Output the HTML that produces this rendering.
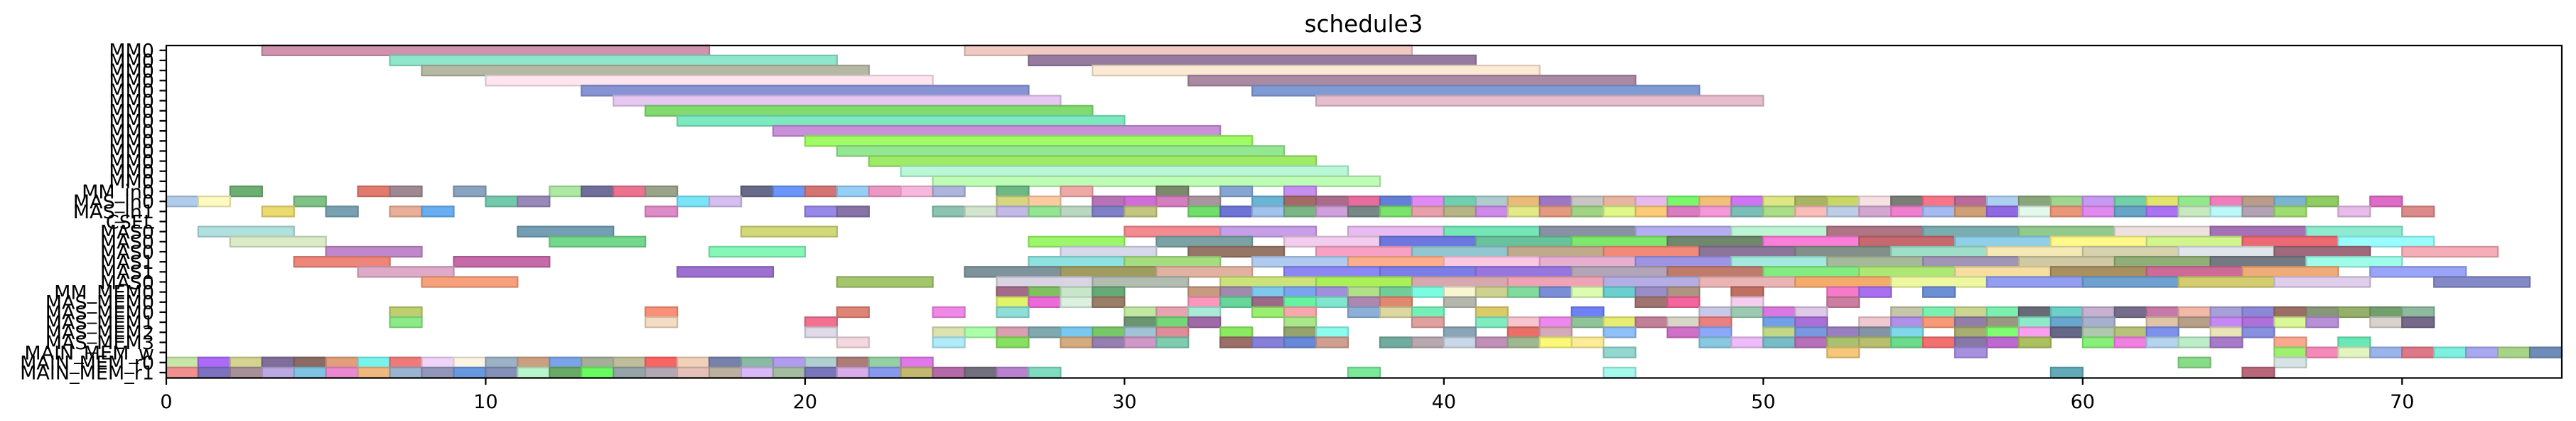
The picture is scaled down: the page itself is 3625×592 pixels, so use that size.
<!DOCTYPE html>
<html>
<head>
<meta charset="utf-8">
<style>
  html,body{margin:0;padding:0;background:#fff;}
  svg{display:block;}
  text{font-family:"DejaVu Sans","Liberation Sans",sans-serif;fill:#000;}
</style>
</head>
<body>
<svg id="chart" width="3625" height="592" viewBox="0 0 3625 592" xmlns="http://www.w3.org/2000/svg">
  <rect x="0" y="0" width="3625" height="592" fill="#fff"/>
  <text x="1919" y="45" font-size="32.6" text-anchor="middle">schedule3</text>
  <g id="bars"></g>
  <g id="yaxis"></g>
  <g id="xaxis"></g>
  <rect x="234" y="64" width="3371" height="467.5" fill="none" stroke="#000" stroke-width="2.2"/>
</svg>
<script>
const rowLabels = ["MM0","MM0","MM0","MM0","MM0","MM0","MM0","MM0","MM0","MM0","MM0","MM0","MM0","MM0",
  "MM_in0","MAS_in0","MAS_in1","CSEL","MAS0","MAS0","MAS0","MAS1","MAS1","MAS0","MM_MEM0",
  "MAS_MEM0","MAS_MEM0","MAS_MEM1","MAS_MEM2","MAS_MEM3","MAIN_MEM_w","MAIN_MEM_r0","MAIN_MEM_r1"];
const xTicks = [0,10,20,30,40,50,60,70];
const xMin = 0, xMax = 75;
const rowDur = [14,14,14,14,14,14,14,14,14,14,14,14,14,14,1,1,1,1,3,3,3,3,3,3,1,1,1,1,1,1,1,1,1];
const rowStarts = [
 [3,25],[7,27],[8,29],[10,32],[13,34],[14,36],[15],[16],[19],[20],[21],[22],[23],[24],
 [2,6,7,9,12,13,14,15,18,19,20,21,22,23,24,26,28,31,33,35],
 [0,1,4,10,11,16,17,26,27,29,30,31,32,34,35,36,37,38,39,40,41,42,43,44,45,46,47,48,49,50,51,52,53,54,55,56,57,58,59,60,61,62,63,64,65,66,67,69],
 [3,5,7,8,15,20,21,24,25,26,27,28,29,30,32,33,34,35,36,37,38,39,40,41,42,43,44,45,46,47,48,49,50,51,52,53,54,55,56,57,58,59,60,61,62,63,64,65,66,68,70],
 [],
 [1,11,18,30,33,37,40,43,46,49,52,55,58,61,64,67],
 [2,12,27,31,35,38,41,44,47,50,53,56,59,62,65,68],
 [5,17,28,32,36,39,42,45,48,51,54,57,60,63,66,70],
 [4,9,27,30,34,37,40,43,46,49,52,55,58,61,64,67],
 [6,16,25,28,31,35,38,41,44,47,50,53,56,59,62,65,69],
 [8,21,26,29,33,36,39,42,45,48,51,54,57,60,63,66,71],
 [26,27,28,29,32,33,34,35,36,37,38,39,40,41,42,43,44,45,46,47,49,52,53,55],
 [26,27,28,29,32,33,34,35,36,37,38,40,46,47,49,52],
 [7,15,21,24,26,30,31,32,34,35,37,38,39,41,44,48,49,50,51,54,55,56,57,58,59,60,61,62,63,64,65,66,67,68,69,70],
 [7,15,20,30,31,32,35,39,41,42,43,44,45,46,47,48,50,51,53,54,55,56,57,58,59,60,62,63,64,65,66,67,69,70],
 [20,24,25,26,27,28,29,30,31,33,35,36,40,42,43,45,47,48,50,51,52,53,54,56,57,58,59,60,61,62,64,65],
 [21,24,26,28,29,30,31,33,34,35,36,38,39,40,41,42,43,44,48,49,50,51,52,53,54,55,56,57,58,60,61,62,63,64,66,68],
 [45,52,56,66,67,68,69,70,71,72,73,74],
 [0,1,2,3,4,5,6,7,8,9,10,11,12,13,14,15,16,17,18,19,20,21,22,23,63,66],
 [0,1,2,3,4,5,6,7,8,9,10,11,12,13,14,15,16,17,18,19,20,21,22,23,24,25,26,27,37,45,59,65]
];
const rowColors = [
 ["#d093ad","#efc9c2"],["#8ee6cb","#967aa0"],["#b5b9a4","#fdead5"],["#ffe5f0","#aa89a3"],["#8793d5","#809bd4"],["#e6c8f3","#e5bdcd"],
 ["#82db70"],["#7de9c0"],["#c890d8"],["#9ffd63"],["#95e893"],["#9eeb68"],["#b9f8d6"],["#bdfdb5"],
 ["#6caf72","#e27a6e","#a08893","#88a4bf","#ade9a3","#6f6f9a","#ec728f","#99a48a","#676a88","#6a95fb","#d47573","#95cff6","#ec98c4","#f8b7dc","#aeb5dc","#6cb985","#eea8a6","#7b8a6b","#86a6d2","#c68ef0"],
 ["#b1cbea","#fffabf","#7ec285","#73c9ac","#9789b8","#7ae5f8","#d4bff0","#d6d680","#fecba0","#b872b8","#d06bd8","#d47ec0","#aa959f","#6ab4d4","#a56a67","#aa6c8a","#e86c9e","#667fd6","#e08af8","#71cfb1","#acccd0","#e9bb79","#9e76c6","#c9c5c6","#e8b6a0","#e8b9ed","#79f86c","#f2bf78","#cf74f2","#dee784","#a8b462","#cad666","#f6e2e2","#7a7e76","#f87488","#b86a98","#abd0f0","#8aa67a","#9ed58f","#c59af0","#72cfa8","#e3e56a","#92e88b","#f07ebb","#b99d8a","#7bb3d1","#8fcc63","#de6cc6"],
 ["#ecdc70","#78a2b2","#eaaf98","#68aef2","#de8cc8","#9789ea","#8773a8","#8cc4b1","#d3e4cf","#c2b9e6","#93e493","#bad7c0","#8080c8","#c2c680","#6ee06a","#6e73d6","#a0c2ec","#7bb786","#cfa0dc","#778887","#7ae36c","#e6a0aa","#b7b585","#ce8ae8","#e2ea88","#e39a80","#a0d484","#e0f888","#fbcb78","#d97cc0","#f499d8","#7bbfb8","#abdc88","#f9bcb8","#bccde6","#d2a8d2","#f07fd0","#a4baf0","#cf9f78","#9168e4","#e3f9ec","#ea9679","#e08af0","#68a4c8","#ab73f3","#c8e8c0","#baf8fa","#b4a3b4","#a0dd70","#e8bce8","#dd8a8a"],
 [],
 ["#b1e1df","#749eb4","#d2d978","#f58a90","#c79ee8","#e8bcf0","#74e6b8","#8a91a4","#b5aef0","#bdf5d4","#ae7585","#7aadb0","#92c98c","#ede2e0","#a672b6","#8decd0"],
 ["#dbebc8","#74d98c","#9cf76a","#7ba2a4","#f3cdee","#6c78e0","#68c29c","#7de86b","#6f876b","#fb7ed8","#c6686e","#90cfe8","#fff98a","#d2f58e","#ee6a72","#99fdfd"],
 ["#c088ca","#85f8b8","#d5d9ea","#957667","#f7a2c4","#92c7d2","#c1a98b","#f18a78","#8b7598","#838f89","#9fdfc9","#f5eab6","#d6d2ae","#dfe5ea","#9e6a7c","#f5adb8"],
 ["#ee857a","#c66aa8","#8ee2e0","#a5dd80","#b1caf0","#fdae8c","#fac8e0","#e8b0d0","#9f94e3","#a3e9de","#a7b99b","#a195b5","#cfcaa3","#8fae78","#757a82","#9efce8"],
 ["#dfa9c8","#9b70d0","#7e939b","#a09c60","#e2b2a0","#8b87f4","#7d7de8","#9876e0","#b2a5b8","#bf7c6c","#83ec80","#ade874","#f6dea0","#a89060","#cd6b96","#f0ac78","#9aa4f8"],
 ["#f6a07c","#a2c66c","#d8d4e4","#b2bcb0","#cce27a","#aaf058","#d8a8b0","#eea4b4","#b4aee4","#ebb4b4","#f3ac6c","#edf8a0","#929ef0","#6ea0d0","#d4cd70","#dfcdec","#8489c8"],
 ["#a46a8a","#80c060","#c8e6c8","#66aa78","#c89a80","#a08aae","#7ec8ee","#7aa4f0","#a090dc","#b2e08a","#72cc98","#7afce0","#f8f6d0","#cdd290","#80dc9c","#7a8ed8","#dcfcb0","#6acfcf","#9b8ec8","#b09482","#c07060","#f57ac8","#a870ee","#6c90d6"],
 ["#e0f468","#ec6ad8","#dcf0e0","#9a7e68","#fb97bc","#66d69a","#9a6a88","#66f4a0","#80e6d0","#ac88b0","#e08870","#b4b8ac","#a07470","#f5649c","#f5cdee","#cc7ea0"],
 ["#bfcf70","#fa9078","#e08478","#f088e8","#8edfd8","#c0e8a0","#e8a4b0","#a8ecd8","#9aee70","#f8a8ac","#8cb0d8","#dcd8a0","#76f0b8","#dccc68","#7080f8","#cac8e8","#9ccab0","#d878e0","#e0c8e8","#c8c6a8","#7cf0b0","#ccd690","#7cf0b0","#686a78","#6ccfc8","#c8b0d0","#756d8a","#c678a8","#f2b8a8","#a8a0d8","#8c88d8","#9a6e64","#87987a","#96b06c","#72a06c","#8eba9e"],
 ["#8cea88","#f5dcc5","#f27090","#6a9570","#72d878","#a06aa8","#a8e888","#e0a0a0","#80ecc0","#f8c4d0","#ee88ee","#90c498","#e8ec70","#c08098","#d8d6c6","#ea8080","#70a0e8","#a870d8","#f0c8d0","#b090e8","#f89a78","#9280a8","#9a9880","#8cecc8","#68a8d0","#a8b0d0","#e0c4a8","#b8a088","#c588f4","#b070dc","#daf898","#b890d8","#dad2cc","#76698a"],
 ["#e0dae8","#dce2b0","#aaffa8","#d8a0b0","#80aab0","#78c8f0","#78c86a","#a0c4d4","#dd8e98","#8aea60","#94a46c","#8cfcec","#8aa4b8","#e87068","#d4aab8","#90c0f8","#d070c8","#8ca8f8","#c0d888","#7898e0","#9880c0","#8494a4","#80d8ea","#a8ae70","#80fc70","#f8a0ee","#666888","#b0c8b0","#b9c27a","#7c90ec","#e8e4b8","#8890e0"],
 ["#f4d8e0","#b0ecf8","#88e060","#d4ac80","#9680b0","#d098c8","#80ccb0","#9a7068","#8680d8","#6888d8","#cfa090","#72aca0","#b8a8b0","#c8d8e8","#c090b8","#a0b890","#fcf878","#fcec98","#88c8e0","#eebcf8","#78bcc8","#b870b8","#a8c270","#b8c070","#6cdc8c","#f27070","#8878a8","#bc6ad0","#acc060","#88f078","#f080e0","#b4d4f0","#bcecc8","#a67cc8","#faa890","#6ae8b8"],
 ["#92d8d0","#f4c878","#a890e0","#a0f070","#f58ab8","#e4f4c0","#9ab4ec","#de7888","#7ef0e0","#a8a8f0","#a8d488","#6e8cb8"],
 ["#c8e6a8","#ac6af8","#d4d490","#7e6e9a","#8a6a62","#e29e7a","#78f4ec","#ee7a7a","#f0d4fa","#fdf5e4","#9cb2c6","#cba080","#7aa4e8","#a4ae98","#c0be9a","#fa6464","#f0d2b8","#7782ac","#88baa4","#b29cf0","#b0d0d0","#ac7c78","#94d0a4","#e078ea","#88dc88","#d8e4e4"],
 ["#f29090","#7e72c0","#a89098","#bca8e0","#80c4e4","#ea88d0","#f0b880","#9ab4d0","#9296b8","#6898e0","#8490b8","#b8f4cc","#6aaa68","#68fc60","#94a4a8","#b4a8b4","#e4c0b8","#bcb0a0","#d8b8f8","#a4bca0","#7a76bc","#d8ace8","#8898ec","#c2b870","#b46aa8","#72707c","#b882d0","#80dcc0","#7aea9a","#a4f8ec","#62aab8","#b86878"]
];

const NS = "http://www.w3.org/2000/svg";
const plotL = 234, plotR = 3605, plotT = 64, plotB = 531.5;
const rowTop = 70.8, rowPitch = 14.16;
function xScale(t){ return plotL + (t - xMin) / (xMax - xMin) * (plotR - plotL); }
function yScale(r){ return rowTop + r * rowPitch; }
function darken(hex){
  const n = parseInt(hex.slice(1),16);
  const r = Math.round(((n>>16)&255)*0.85), g = Math.round(((n>>8)&255)*0.85), b = Math.round((n&255)*0.85);
  return "rgb(" + r + "," + g + "," + b + ")";
}
const barsG = document.getElementById("bars");
rowStarts.forEach(function(starts, r){
  starts.forEach(function(s, i){
    const x0 = xScale(s), x1 = xScale(s + rowDur[r]);
    const rect = document.createElementNS(NS, "rect");
    rect.setAttribute("x", x0);
    rect.setAttribute("y", yScale(r) - rowPitch/2);
    rect.setAttribute("width", x1 - x0);
    rect.setAttribute("height", rowPitch);
    const c = (rowColors[r] && rowColors[r][i]) || "#999999";
    rect.setAttribute("fill", c);
    rect.setAttribute("stroke", darken(c));
    rect.setAttribute("stroke-width", "2.2");
    
    
    barsG.appendChild(rect);
  });
});
const yG = document.getElementById("yaxis");
rowLabels.forEach(function(lab, r){
  const y = yScale(r);
  const tk = document.createElementNS(NS, "line");
  tk.setAttribute("x1", plotL - 9.5); tk.setAttribute("x2", plotL);
  tk.setAttribute("y1", y); tk.setAttribute("y2", y);
  tk.setAttribute("stroke", "#000"); tk.setAttribute("stroke-width", "2.2");
  
  
  yG.appendChild(tk);
  const tx = document.createElementNS(NS, "text");
  tx.setAttribute("x", plotL - 17);
  tx.setAttribute("y", y + 9.8);
  tx.setAttribute("font-size", "27");
  tx.setAttribute("text-anchor", "end");
  tx.textContent = lab;
  
  
  yG.appendChild(tx);
});
const xG = document.getElementById("xaxis");
xTicks.forEach(function(v){
  const x = xScale(v);
  const tk = document.createElementNS(NS, "line");
  tk.setAttribute("x1", x); tk.setAttribute("x2", x);
  tk.setAttribute("y1", plotB); tk.setAttribute("y2", plotB + 9.5);
  tk.setAttribute("stroke", "#000"); tk.setAttribute("stroke-width", "2.2");
  
  
  xG.appendChild(tk);
  const tx = document.createElementNS(NS, "text");
  tx.setAttribute("x", x);
  tx.setAttribute("y", 574);
  tx.setAttribute("font-size", "27");
  tx.setAttribute("text-anchor", "middle");
  tx.textContent = String(v);
  
  
  xG.appendChild(tx);
});
</script>
</body>
</html>
